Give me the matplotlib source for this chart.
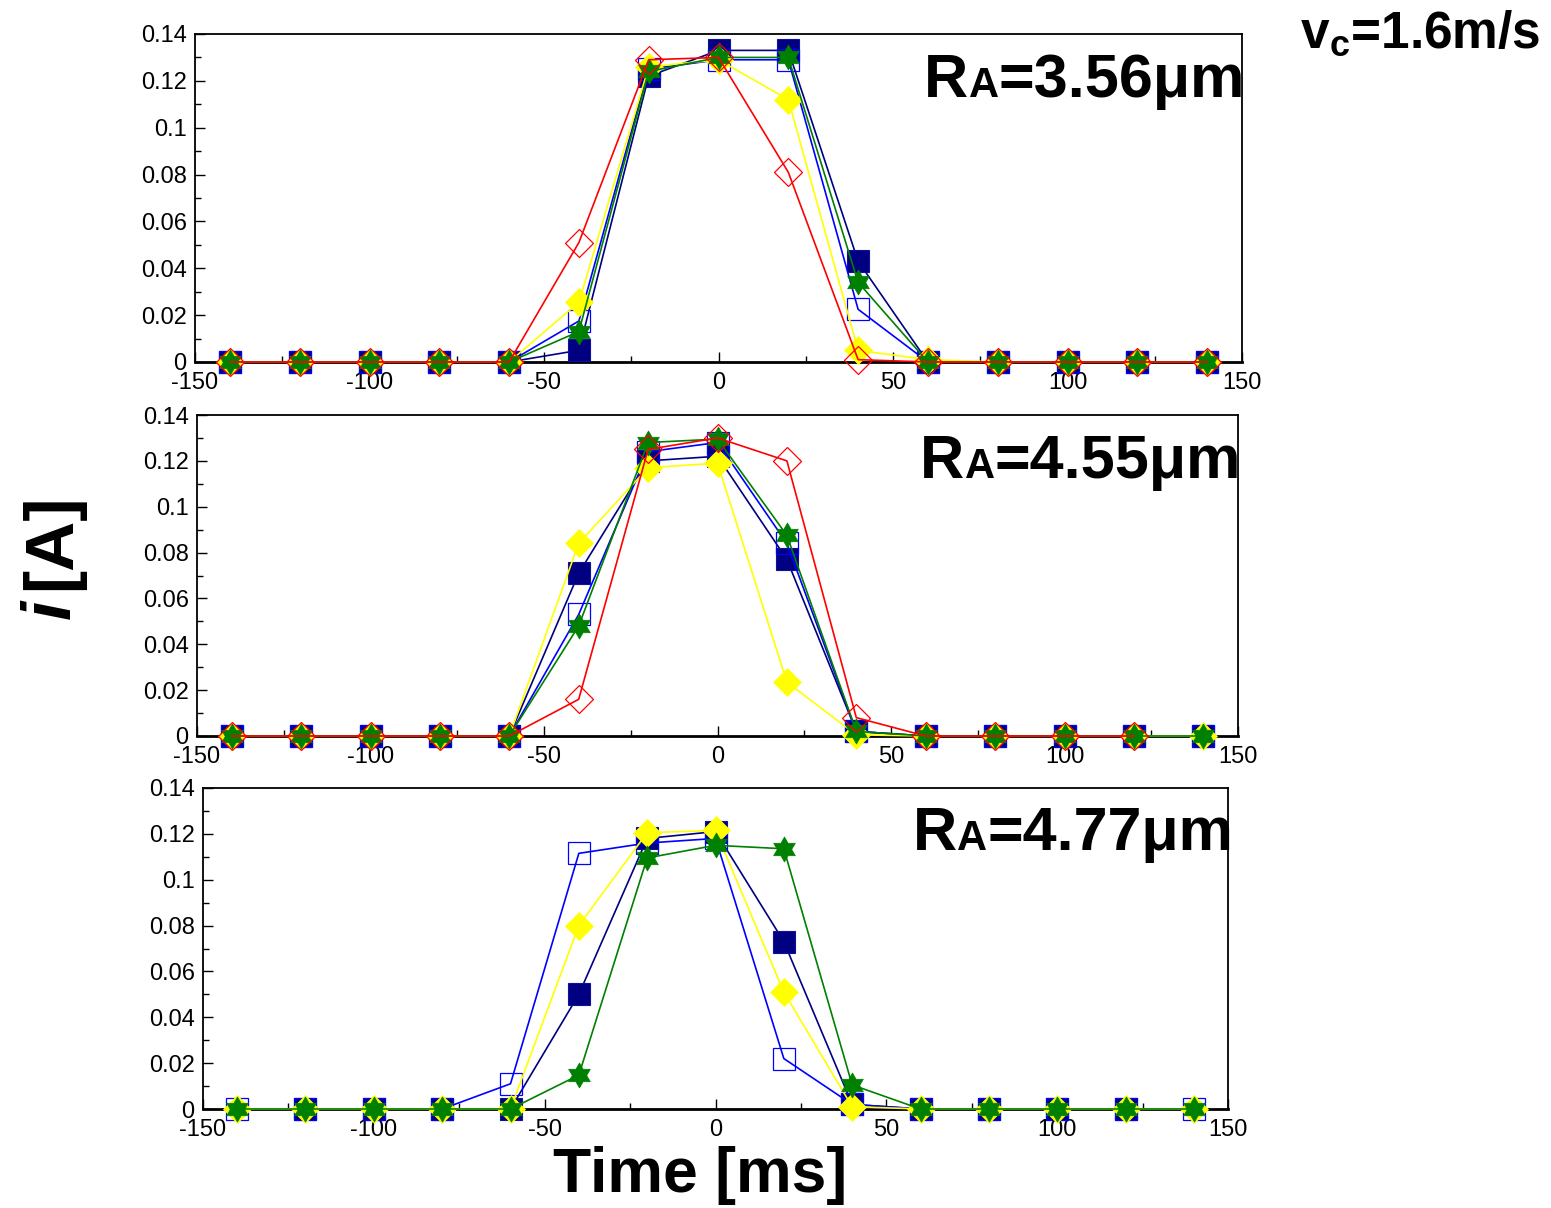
import numpy as np
import matplotlib
matplotlib.use("Agg")
import matplotlib.pyplot as plt
from matplotlib.path import Path

plt.rcParams['font.family'] = ['Liberation Sans', 'DejaVu Sans']
plt.rcParams['axes.unicode_minus'] = False
plt.rcParams['mathtext.fontset'] = 'custom'
plt.rcParams['mathtext.rm'] = 'Liberation Sans'
plt.rcParams['mathtext.bf'] = 'Liberation Sans:bold'

nan = np.nan
time_ms = [-140, -120, -100, -80, -60, -40, -20, 0, 20, 40, 60, 80, 100, 120, 140]

# Panel 1: RA = 3.56 um
p1_navy   = [0, 0, 0, 0, 0, 0.005, 0.122, 0.133, 0.133, 0.043, 0, 0, 0, 0, 0]
p1_blue   = [0, 0, 0, 0, 0, 0.0175, 0.125, 0.129, 0.129, 0.0225, 0, 0, 0, 0, 0]
p1_yellow = [0, 0, 0, 0, 0, 0.0255, 0.126, 0.129, 0.112, 0.005, 0.001, 0, 0, 0, 0]
p1_green  = [0, 0, 0, 0, 0, 0.013, 0.124, 0.130, 0.130, 0.034, 0, 0, 0, 0, 0]
p1_red    = [0, 0, 0, 0, 0, 0.051, 0.129, 0.130, 0.081, 0.001, 0, 0, 0, 0, 0]

# Panel 2: RA = 4.55 um
p2_navy   = [0, 0, 0, 0, 0, 0.071, 0.120, 0.122, 0.077, 0.002, 0, 0, 0, 0, 0]
p2_blue   = [0, 0, 0, 0, 0, 0.053, 0.124, 0.128, 0.084, 0.002, 0, 0, 0, 0, 0]
p2_yellow = [0, 0, 0, 0, 0, 0.084, 0.117, 0.119, 0.0235, 0.0005, 0, 0, 0, 0, 0]
p2_green  = [0, 0, 0, 0, 0, 0.048, 0.128, 0.1295, 0.0875, 0.002, 0, 0, 0, 0, 0]
p2_red    = [0, 0, 0, 0, 0, 0.016, 0.125, 0.130, 0.120, 0.008, 0, 0, 0, 0, nan]

# Panel 3: RA = 4.77 um
p3_navy   = [nan, 0, 0, 0, 0, 0.050, 0.118, 0.121, 0.073, 0.002, 0, 0, 0, 0, nan]
p3_blue   = [0, 0, 0, 0, 0.011, 0.1115, 0.116, 0.118, 0.022, 0.002, 0, 0, 0, 0, 0]
p3_yellow = [0, 0, 0, 0, 0, 0.080, 0.1205, 0.1215, 0.051, 0.001, 0, 0, 0, 0, 0]
p3_green  = [0, 0, 0, 0, 0, 0.0148, 0.1095, 0.115, 0.1135, 0.0105, 0, 0, 0, 0, 0]

panel_labels = ['3.56', '4.55', '4.77']
x_ticks = [-150, -100, -50, 0, 50, 100, 150]
y_ticks = [0, 0.02, 0.04, 0.06, 0.08, 0.1, 0.12, 0.14]

# hexagram marker
ang = np.pi / 2 + np.arange(12) * np.pi / 6
rad = np.where(np.arange(12) % 2 == 0, 1.0, 0.577)
verts = np.column_stack([rad * np.cos(ang), rad * np.sin(ang)])
verts = np.vstack([verts, verts[:1]])
codes = [Path.MOVETO] + [Path.LINETO] * 11 + [Path.CLOSEPOLY]
star6 = Path(verts, codes)

styles = {
    'navy':   dict(color='#000080', marker='s', markersize=16, markerfacecolor='#000080', markeredgecolor='#1010a0', markeredgewidth=0.8),
    'blue':   dict(color='#0000ff', marker='s', markersize=16, markerfacecolor='none', markeredgecolor='#0000ff', markeredgewidth=0.9),
    'yellow': dict(color='#ffff00', marker='D', markersize=14, markerfacecolor='#ffff00', markeredgecolor='#ffff00', markeredgewidth=0.5),
    'green':  dict(color='#008000', marker=star6, markersize=18, markerfacecolor='#008000', markeredgecolor='#008000', markeredgewidth=0.5),
    'red':    dict(color='#ff0000', marker='D', markersize=14, markerfacecolor='none', markeredgecolor='#ff0000', markeredgewidth=0.9),
}

panels = [
    dict(series=[('navy', p1_navy), ('blue', p1_blue), ('yellow', p1_yellow), ('green', p1_green), ('red', p1_red)],
         rect=(195, 34, 1242, 362), label_right=1245, label_base=97),
    dict(series=[('navy', p2_navy), ('blue', p2_blue), ('yellow', p2_yellow), ('green', p2_green), ('red', p2_red)],
         rect=(197, 415, 1238, 736), label_right=1241, label_base=478),
    dict(series=[('navy', p3_navy), ('blue', p3_blue), ('yellow', p3_yellow), ('green', p3_green)],
         rect=(203, 788, 1228, 1109), label_right=1233, label_base=850),
]

W, H = 1551, 1208
fig = plt.figure(figsize=(W / 100, H / 100), dpi=100)

axes = []
for p in panels:
    l, t, r, b = p['rect']
    ax = fig.add_axes([l / W, 1 - b / H, (r - l) / W, (b - t) / H])
    for name, vals in p['series']:
        ax.plot(time_ms, vals, linewidth=1.2, clip_on=False, zorder=3, **styles[name])
    ax.set_xlim(-150, 150)
    ax.set_ylim(0, 0.14)
    ax.set_xticks(x_ticks)
    ax.set_xticks(np.arange(-150, 151, 25), minor=True)
    ax.set_yticks(y_ticks)
    ax.set_yticks(np.arange(0, 0.141, 0.01), minor=True)
    ax.set_xticklabels([f'{v:g}' for v in x_ticks])
    ax.set_yticklabels([f'{v:g}' for v in y_ticks])
    ax.tick_params(which='both', direction='in', labelsize=17, top=False, right=False)
    ax.tick_params(which='major', length=7, width=1)
    ax.tick_params(which='minor', length=4, width=1)
    ax.tick_params(axis='x', pad=7)
    ax.tick_params(axis='y', pad=6)
    for s in ax.spines.values():
        s.set_linewidth(1.3)
    ax.spines['bottom'].set_linewidth(2.0)
    axes.append(ax)

fig.canvas.draw()
renderer = fig.canvas.get_renderer()

def place_parts(parts, x_right, y_base):
    # parts: list of (text, fontsize), placed right-to-left on a common baseline
    x = x_right
    for txt, fs in reversed(parts):
        t = fig.text(x / W, 1 - y_base / H, txt, fontsize=fs, fontweight='bold',
                     ha='right', va='baseline')
        bb = t.get_window_extent(renderer=renderer)
        x = x - bb.width

for p, lab in zip(panels, panel_labels):
    place_parts([('R', 44), ('A', 30), ('=' + lab + '\u03bcm', 44)], p['label_right'], p['label_base'])

fig.text(1540 / W, 1 - 48 / H, r'v$_\mathbf{c}$=1.6m/s', fontsize=37, fontweight='bold',
         ha='right', va='baseline')

fig.text(700 / W, 1 - 1192 / H, 'Time [ms]', fontsize=45, fontweight='bold', ha='center', va='baseline')
fig.text(52 / W, 1 - 590 / H, '[A]', fontsize=50, fontweight='bold',
         rotation=90, ha='center', va='bottom')
fig.text(52 / W, 1 - 600 / H, 'i', fontsize=50, fontweight='bold', fontstyle='italic',
         rotation=90, ha='center', va='top')

fig.savefig('out.png', dpi=100)
